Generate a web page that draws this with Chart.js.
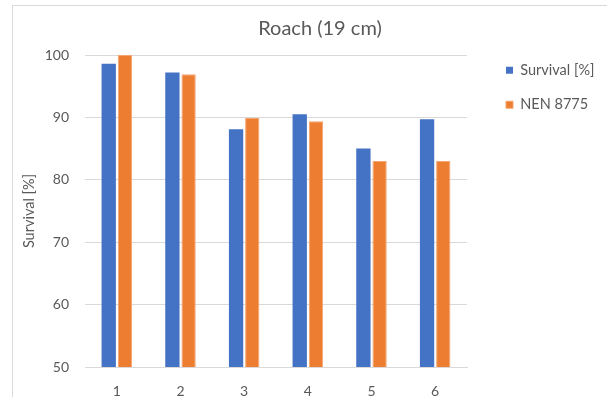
<!DOCTYPE html>
<html>
<head>
<meta charset="utf-8">
<script src="https://cdn.jsdelivr.net/npm/chart.js@4.4.1/dist/chart.umd.min.js"></script>
<style>
  html, body { margin: 0; padding: 0; background: #fff; overflow: hidden; }
  #wrap { position: relative; width: 607px; height: 397px; overflow: hidden; }
  #frame {
    position: absolute; left: 12px; top: 5px; width: 700px; height: 500px;
    border: 1px solid #d9d9d9;
  }
  #chart { position: absolute; left: 0; top: 0; }
</style>
</head>
<body>
<div id="wrap">
  <div id="frame"></div>
  <canvas id="chart" width="630" height="397"></canvas>
</div>
<script>
const categories = ['1', '2', '3', '4', '5', '6'];
const survival = [98.6, 97.2, 88.1, 90.5, 85.0, 89.7];
const nen8775 = [100, 96.9, 89.9, 89.4, 83.0, 83.0];
const yTicks = [50, 60, 70, 80, 90, 100];

const FONT = "Lato, 'Open Sans', sans-serif";
const TEXT = '#595959';
const GRID = '#d9d9d9';

Chart.defaults.font.family = FONT;
Chart.defaults.color = TEXT;

// Legend sits well to the right of the plot: widen its box, then nudge the items.
const legendPlacement = {
  id: 'legendPlacement',
  beforeUpdate(chart) {
    const lg = chart.legend;
    if (lg && !lg._wide) {
      const fit = lg.fit;
      lg.fit = function() {
        fit.call(this);
        this.width = 163;
      };
      lg._wide = true;
    }
  },
  afterLayout(chart) {
    const lg = chart.legend;
    lg.left += 19;
    lg.top -= 12;
  }
};

new Chart(document.getElementById('chart'), {
  type: 'bar',
  data: {
    labels: categories,
    datasets: [
      {
        label: 'Survival [%]',
        data: survival,
        backgroundColor: '#4472C4',
        borderWidth: 0
      },
      {
        label: 'NEN 8775',
        data: nen8775,
        backgroundColor: '#ED7D31',
        borderColor: '#F3A46F',
        borderWidth: 1
      }
    ]
  },
  options: {
    responsive: false,
    animation: false,
    devicePixelRatio: 1,
    layout: { padding: { left: 10, right: 0, top: 0, bottom: 0 } },
    datasets: {
      bar: { categoryPercentage: 0.509, barPercentage: 0.883 }
    },
    plugins: {
      title: {
        display: true,
        text: 'Roach (19 cm)',
        color: TEXT,
        font: { family: FONT, size: 20, weight: 'normal' },
        padding: { top: 17, bottom: 14 }
      },
      legend: {
        position: 'right',
        align: 'start',
        fullSize: false,
        labels: {
          boxWidth: 7,
          boxHeight: 7,
          padding: 20,
          color: TEXT,
          font: { family: FONT, size: 14.5 }
        }
      },
      tooltip: { enabled: false }
    },
    scales: {
      x: {
        grid: { display: false, drawTicks: false },
        border: { color: GRID },
        ticks: { color: TEXT, padding: 16, font: { family: FONT, size: 14 } },
        afterFit(scale) {
          scale.height = 30;
        }
      },
      y: {
        min: yTicks[0],
        max: yTicks[yTicks.length - 1],
        afterBuildTicks(scale) {
          scale.ticks = yTicks.map(v => ({ value: v }));
        },
        afterFit(scale) {
          scale.width = 75;
        },
        grid: { color: GRID, drawTicks: false },
        border: { display: false },
        ticks: { color: TEXT, padding: 16, font: { family: FONT, size: 14 } },
        title: {
          display: true,
          text: 'Survival [%]',
          color: TEXT,
          font: { family: FONT, size: 14.5 },
          padding: { top: 11, bottom: 0 }
        }
      }
    }
  },
  plugins: [legendPlacement]
});
</script>
</body>
</html>
